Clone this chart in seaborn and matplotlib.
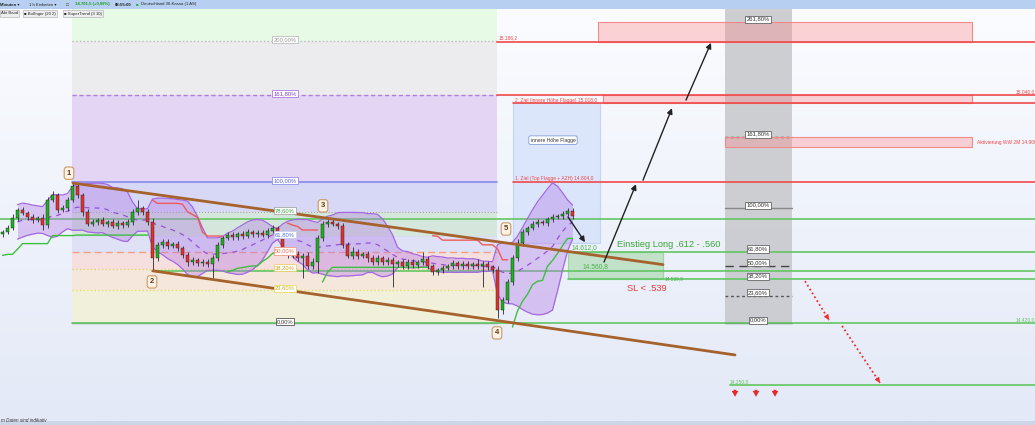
import numpy as np
import pandas as pd
import matplotlib
matplotlib.use("Agg")
import matplotlib.pyplot as plt
import seaborn as sns
from matplotlib.patches import Rectangle
from matplotlib.colors import LinearSegmentedColormap

# ---------------- data ----------------
close = [
    14668, 14679, 14706, 14728, 14720, 14709, 14700, 14706, 14687, 14755,
    14769, 14728, 14733, 14755, 14793, 14769, 14722, 14690, 14695, 14700,
    14690, 14695, 14684, 14692, 14687, 14695, 14722, 14733, 14722, 14695,
    14597, 14632, 14641, 14630, 14635, 14624, 14605, 14586, 14592, 14583,
    14586, 14581, 14597, 14632, 14651, 14660, 14654, 14662, 14657, 14668,
    14662, 14665, 14660, 14671, 14679, 14657, 14614, 14605, 14608, 14597,
    14603, 14575, 14586, 14651, 14690, 14695, 14690, 14684, 14632, 14603,
    14614, 14603, 14608, 14597, 14586, 14597, 14586, 14592, 14581, 14586,
    14575, 14586, 14578, 14586, 14595, 14575, 14559, 14564, 14570, 14575,
    14583, 14575, 14581, 14575, 14581, 14575, 14581, 14572, 14564, 14455,
    14483, 14532, 14597, 14638, 14668, 14679, 14690, 14695, 14692, 14703,
    14709, 14711, 14717, 14725, 14711]
up_wick = [
    6, 8, 10, 6, 8, 5, 7, 6, 12, 8,
    10, 6, 8, 7, 8, 9, 6, 8, 7, 6,
    8, 6, 7, 8, 6, 7, 9, 22, 6, 8,
    10, 9, 7, 8, 6, 7, 6, 8, 7, 6,
    8, 7, 9, 8, 6, 7, 8, 6, 9, 7,
    6, 8, 7, 9, 8, 6, 7, 8, 6, 7,
    8, 9, 10, 8, 7, 8, 9, 6, 7, 8,
    12, 7, 6, 8, 7, 9, 6, 8, 7, 6,
    8, 7, 9, 6, 18, 8, 7, 6, 8, 7,
    9, 6, 8, 7, 6, 12, 7, 8, 6, 10,
    8, 9, 7, 10, 8, 6, 7, 9, 6, 7,
    8, 6, 7, 9, 8]
dn_wick = [
    8, 6, 7, 9, 6, 8, 7, 6, 15, 8,
    6, 9, 7, 8, 6, 8, 10, 7, 6, 8,
    7, 9, 6, 8, 7, 6, 8, 7, 9, 8,
    36, 8, 7, 9, 6, 8, 7, 10, 8, 7,
    9, 8, 38, 7, 8, 6, 9, 7, 8, 6,
    7, 8, 6, 9, 7, 8, 10, 8, 7, 9,
    54, 8, 9, 30, 7, 8, 6, 9, 8, 7,
    9, 8, 7, 10, 8, 9, 7, 8, 63, 8,
    7, 9, 8, 7, 9, 8, 7, 9, 8, 7,
    8, 9, 7, 8, 9, 7, 58, 8, 7, 21,
    10, 9, 8, 7, 8, 9, 7, 8, 6, 7,
    8, 7, 9, 6, 8]
first_open = 14662.0

fib1_low, fib1_high = 14420.0, 14804.0
fib1_pct = [0.0, 23.6, 38.2, 50.0, 61.8, 78.6, 100.0, 161.8, 200.0]
fib1_text = ["0,00%", "23,60%", "38,20%", "50,00%", "61,80%", "78,60%", "100,00%", "161,80%", "200,00%"]
fib2_low, fib2_high = 14420.0, 14733.0
fib2_pct = [0.0, 23.6, 38.2, 50.0, 61.8, 100.0, 161.8, 261.8]
fib2_text = ["0,00%", "23,60%", "38,20%", "50,00%", "61,80%", "100,00%", "161,80%", "261,80%"]

target_1 = 14804.0
target_2 = 15018.0
level_15040 = 15040.0
level_15186 = 15186.2
level_upper_green = 14703.0
entry_hi = 14612.0
entry_mid = 14560.8
stop_loss = 14539.8
base_level = 14420.0
low_target = 14250.0
activation = 14900.0
flag_low = 14638.0

# ---------------- setup ----------------
sns.set_theme(style="white")
plt.rcParams["font.family"] = ["Liberation Sans", "DejaVu Sans"]

W, H = 1035, 425
fig = plt.figure(figsize=(W / 100, H / 100), dpi=100)
ax_bottom_px, ax_top_px = 421, 9
ax = fig.add_axes([0, (H - ax_bottom_px) / H, 1, (ax_bottom_px - ax_top_px) / H])
ylo, yhi = 14153.1, 15275.1
xlo, xhi = 0, 207

# background gradient
grad = np.linspace(0, 1, 256).reshape(-1, 1)
bg = LinearSegmentedColormap.from_list("bg", ["#fbfcff", "#e3e9f7"])
ax.imshow(grad, extent=[xlo, xhi, ylo, yhi], origin="upper", aspect="auto", cmap=bg, zorder=0)

def fib(lo, hi, p):
    return lo + (hi - lo) * p / 100.0

# ---------- left fibonacci zones ----------
fx0, fx1 = 14.4, 99.4
zone_cols = ["#f1f0da", "#f5e7dc", "#f6dfdf", "#dfe2f6", "#d5e7dc", "#d6d8f6", "#e4d5f5", "#ececef"]
for k in range(len(fib1_pct) - 1):
    lo = fib(fib1_low, fib1_high, fib1_pct[k])
    hi = fib(fib1_low, fib1_high, fib1_pct[k + 1])
    ax.fill_between([fx0, fx1], lo, hi, color=zone_cols[k], lw=0, zorder=1)
ax.fill_between([fx0, fx1], fib(fib1_low, fib1_high, 200), yhi, color="#e6fae6", lw=0, zorder=1)

lvl_style = {
    "0,00%": ("#9a9a9a", "-", 1.0, "#444444"),
    "23,60%": ("#e9dc62", ":", 1.0, "#c8b020"),
    "38,20%": ("#e9d070", ":", 1.0, "#d0a020"),
    "50,00%": ("#f0a088", (0, (5, 3)), 1.0, "#e07050"),
    "61,80%": ("#c8d0f0", ":", 0.6, "#5070d0"),
    "78,60%": ("#a8a8a8", ":", 0.8, "#40a040"),
    "100,00%": ("#9090ea", "-", 1.3, "#6060d0"),
    "161,80%": ("#b07ce0", (0, (3, 2)), 1.0, "#8040c0"),
    "200,00%": ("#bbbbbb", ":", 1.0, "#999999"),
}
for p, t in zip(fib1_pct, fib1_text):
    v = fib(fib1_low, fib1_high, p)
    c, ls, lw, tc = lvl_style[t]
    ax.plot([fx0, fx1], [v, v], color=c, ls=ls, lw=lw, zorder=2)
    ax.text(57, v + 4, t, fontsize=4.2, color=tc, ha="center", va="center", zorder=9,
            bbox=dict(boxstyle="square,pad=0.18", fc="white", ec=c if t != "0,00%" else "#555555", lw=0.6))

# ---------- right fibonacci (grey column) ----------
gx0, gx1 = 145.0, 158.4
ax.fill_between([gx0, gx1], fib2_low, yhi, color="#c9cace", lw=0, alpha=0.9, zorder=1)
fib2_style = {
    "0,00%": ("#777777", "-"), "23,60%": ("#555555", (0, (2, 2))), "38,20%": (None, None),
    "50,00%": ("#444444", (0, (6, 4))), "61,80%": (None, None), "100,00%": ("#888888", "-"),
    "161,80%": ("#444444", (0, (2, 2))), "261,80%": (None, None),
}
for p, t in zip(fib2_pct, fib2_text):
    v = fib(fib2_low, fib2_high, p)
    c, ls = fib2_style[t]
    if c is not None:
        ax.plot([gx0, gx1], [v, v], color=c, ls=ls, lw=1.0, zorder=2)
    ax.text(151.6, v + 8, t, fontsize=4.2, color="#333333", ha="center", va="center", zorder=9,
            bbox=dict(boxstyle="square,pad=0.18", fc="white", ec="#666666", lw=0.6))

# ---------- target zones ----------
red = "#f04848"
for (x0, x1, lo, hi) in [(119.6, 194.4, level_15186, fib(fib2_low, fib2_high, 261.8)),
                         (120.6, 194.4, target_2, level_15040),
                         (145.0, 194.4, activation, fib(fib2_low, fib2_high, 161.8))]:
    ax.add_patch(Rectangle((x0, lo), x1 - x0, hi - lo, fc="#ff8080", alpha=0.33, ec="none", zorder=3))
    ax.add_patch(Rectangle((x0, lo), x1 - x0, hi - lo, fc="none", ec="#f28a8a", lw=0.8, zorder=3))

# blue flag-height box
ax.add_patch(Rectangle((102.6, flag_low), 120.0 - 102.6, target_2 - flag_low,
                       fc="#c9d9fb", alpha=0.55, ec="#a9c0f2", lw=0.8, zorder=3))
ax.text(110.6, 14918, "innere Höhe Flagge", fontsize=3.6, color="#333333", ha="center", va="center", zorder=9,
        bbox=dict(boxstyle="round,pad=0.35", fc="white", ec="#7f9ad8", lw=0.6))

# entry box
ax.add_patch(Rectangle((113.6, stop_loss), 132.6 - 113.6, entry_hi - stop_loss,
                       fc="#8fcf8f", alpha=0.45, ec="#5cbf5c", lw=0.9, zorder=3))

# horizontal lines
green = "#62c662"
for (x0, v) in [(0, level_upper_green), (30.4, entry_mid), (113.6, entry_hi), (113.6, stop_loss),
                (14.4, base_level), (146.0, low_target)]:
    ax.plot([x0, xhi], [v, v], color=green, lw=1.2, zorder=3)
for (x0, v) in [(99.4, level_15186), (99.4, level_15040), (102.6, target_2), (102.6, target_1)]:
    ax.plot([x0, xhi], [v, v], color=red, lw=1.2, zorder=3)

# ---------- candles & indicators ----------
n = len(close)
c = np.array(close, float)
o = np.concatenate([[first_open], c[:-1]])
h = np.maximum(o, c) + np.array(up_wick, float)
l = np.minimum(o, c) - np.array(dn_wick, float)
x = np.arange(n) + 0.5

# Bollinger (20 2) -- window expressed in this coarser bar spacing
s = pd.Series(c)
mid = s.rolling(12, min_periods=4).mean()
sd = s.rolling(12, min_periods=4).std(ddof=0)
bb = pd.DataFrame({"x": x, "mid": mid, "up": mid + 2 * sd, "lo": mid - 2 * sd}).dropna()
ax.fill_between(bb["x"], bb["lo"], bb["up"], color="#b27ae6", alpha=0.38, lw=0, zorder=4)
sns.lineplot(data=bb, x="x", y="up", ax=ax, color="#a468e0", lw=0.9, zorder=4)
sns.lineplot(data=bb, x="x", y="lo", ax=ax, color="#a468e0", lw=0.9, zorder=4)
sns.lineplot(data=bb, x="x", y="mid", ax=ax, color="#9553d6", lw=0.9, zorder=4, dashes=False)
ax.lines[-1].set_dashes([4, 4])

# SuperTrend (3, 10)
tr = np.zeros(n)
tr[0] = h[0] - l[0]
for i in range(1, n):
    tr[i] = max(h[i] - l[i], abs(h[i] - c[i - 1]), abs(l[i] - c[i - 1]))
atr = pd.Series(tr).rolling(10, min_periods=1).mean().values
hl2 = (h + l) / 2
ub = hl2 + 3 * atr
lb = hl2 - 3 * atr
fub, flb = ub.copy(), lb.copy()
trend = np.ones(n, int)
for i in range(1, n):
    fub[i] = ub[i] if (ub[i] < fub[i - 1] or c[i - 1] > fub[i - 1]) else fub[i - 1]
    flb[i] = lb[i] if (lb[i] > flb[i - 1] or c[i - 1] < flb[i - 1]) else flb[i - 1]
    if trend[i - 1] == 1 and c[i] < flb[i]:
        trend[i] = -1
    elif trend[i - 1] == -1 and c[i] > fub[i]:
        trend[i] = 1
    else:
        trend[i] = trend[i - 1]
st = np.where(trend == 1, flb, fub)
ax.plot(x, np.where(trend == 1, st, np.nan), color="#3fbf3f", lw=1.0, zorder=4.5)
ax.plot(x, np.where(trend == -1, st, np.nan), color="#ef5a5a", lw=1.0, zorder=4.5)

# candles
up = c >= o
cols = np.where(up, "#1db31d", "#e3312b")
ax.vlines(x, l, h, color="#2a2a2a", lw=0.6, zorder=5)
body = np.maximum(np.abs(c - o), 1.5)
ax.bar(x, body, bottom=np.minimum(o, c), width=0.62, color=cols, edgecolor="#1a1a1a", linewidth=0.3, zorder=6)

# channel lines
brown = "#a5622c"
ax.plot([14.6, 132.6], [14801, 14579], color=brown, lw=2.0, zorder=7, solid_capstyle="round")
ax.plot([30.6, 147.0], [14562, 14333], color=brown, lw=2.0, zorder=7, solid_capstyle="round")

# wave labels
for lab, (wx, wy) in zip(["1", "2", "3", "4", "5"],
                         [(13.8, 14828), (30.4, 14532), (64.6, 14739), (99.4, 14393), (101.2, 14676)]):
    ax.text(wx, wy, lab, fontsize=5.5, color="#5a3a1a", ha="center", va="center", fontweight="bold", zorder=10,
            bbox=dict(boxstyle="round,pad=0.35", fc="#fdf2e4", ec="#c8996a", lw=0.8))

# arrows
for (tx, ty, hx, hy) in [(113.6, 14709, 117.0, 14640), (120.8, 14586, 127.2, 14798),
                         (128.6, 14809, 134.4, 15005), (137.2, 15027, 142.2, 15183)]:
    ax.annotate("", xy=(hx, hy), xytext=(tx, ty), zorder=11,
                arrowprops=dict(arrowstyle="-|>", color="#222222", lw=1.0, mutation_scale=8, shrinkA=0, shrinkB=0))
for (tx, ty, hx, hy) in [(161.0, 14534, 165.8, 14428), (168.4, 14412, 176.0, 14257)]:
    ax.plot([tx, hx], [ty, hy], color="#ee3030", ls=(0, (1, 1.5)), lw=1.3, zorder=11)
    ax.annotate("", xy=(hx, hy), xytext=(hx - (hx - tx) * 0.08, hy - (hy - ty) * 0.08), zorder=11,
                arrowprops=dict(arrowstyle="-|>", color="#ee3030", lw=0.8, mutation_scale=7, shrinkA=0, shrinkB=0))
for ax_x in [147.0, 151.2, 155.0]:
    ax.annotate("", xy=(ax_x, 14219), xytext=(ax_x, 14238), zorder=11,
                arrowprops=dict(arrowstyle="simple,head_width=0.8,head_length=0.7,tail_width=0.35",
                                mutation_scale=6, color="#e52b2b", lw=0, shrinkA=0, shrinkB=0))

# texts
small = 3.5
ax.text(99.8, 15189, "15.186,2", fontsize=small, color=red, ha="left", va="bottom", zorder=9)
ax.text(103.0, target_2 + 2, "2. Ziel (innere Höhe Flagge) 15.018,0", fontsize=small, color=red, ha="left", va="bottom", zorder=9)
ax.text(103.0, target_1 + 3, "1. Ziel (Top Flagge + AZH) 14.804,0", fontsize=small, color=red, ha="left", va="bottom", zorder=9)
ax.text(206.9, level_15040 + 3, "15.040,0", fontsize=small, color=red, ha="right", va="bottom", zorder=9)
ax.text(195.4, 14912, "Aktivierung WW 2M 14.900", fontsize=small, color=red, ha="left", va="center", zorder=9)
ax.text(206.9, base_level + 3, "14.420,0", fontsize=small, color=green, ha="right", va="bottom", zorder=9)
ax.text(146.0, low_target + 3, "14.250,0", fontsize=small, color=green, ha="left", va="bottom", zorder=9)
ax.text(114.4, 14626, "14.612,0", fontsize=4.8, color="#4bb34b", ha="left", va="center", zorder=9)
ax.text(116.6, 14575, "14.560,8", fontsize=4.8, color="#4bb34b", ha="left", va="center", zorder=9)
ax.text(133.0, 14541, "14.539,8", fontsize=3.4, color="#4bb34b", ha="left", va="center", zorder=9)
ax.text(123.4, 14633, "Einstieg Long .612 - .560", fontsize=6.7, color="#3aa83a", ha="left", va="center", zorder=9)
ax.text(125.4, 14514, "SL < .539", fontsize=6.7, color="#e83a3a", ha="left", va="center", zorder=9)

ax.set_xlim(xlo, xhi)
ax.set_ylim(ylo, yhi)
ax.set_axis_off()

# ---------- toolbar & legend strip ----------
fig.patches.append(Rectangle((0, 1 - 9 / H), 1, 9 / H, transform=fig.transFigure,
                             fc="#b7d0f2", ec="none", zorder=0))
fig.patches.append(Rectangle((0, 0), 1, (H - ax_bottom_px) / H, transform=fig.transFigure,
                             fc="#cdd6e9", ec="none", zorder=0))
tb = 3.1
ty = 1 - 4.5 / H
fig.text(0 / W, ty, "Minuten ▾", fontsize=tb, color="#222222", va="center", fontweight="bold")
fig.text(29 / W, ty, "1 h Einheiten ▾", fontsize=tb, color="#222222", va="center")
fig.text(66 / W, ty, "□", fontsize=tb + 0.5, color="#555555", va="center")
fig.text(75 / W, ty, "14.701,5 (+0,09%)", fontsize=tb, color="#1f9a1f", va="center", fontweight="bold")
fig.text(115 / W, ty, "08:55:00", fontsize=tb, color="#222222", va="center", fontweight="bold")
fig.text(136 / W, ty, "■", fontsize=tb, color="#2aa82a", va="center")
fig.text(141 / W, ty, "Deutschland 30-Kassa (1 AS)", fontsize=tb, color="#222222", va="center")

ly = 1 - 13.5 / H
for (xp, txt) in [(1, "Akt Band"), (24, "■ Bollinger (20 2)"), (64, "■ SuperTrend (3 10)")]:
    fig.text(xp / W, ly, txt, fontsize=tb, color="#222222", va="center",
             bbox=dict(boxstyle="square,pad=0.3", fc="#eeeeee", ec="#b8b8b8", lw=0.5))
fig.text(1 / W, 1 - 420 / H, "m Daten sind indikativ", fontsize=3.3, color="#333333", va="center", style="italic")

fig.savefig("out.png", dpi=100)
